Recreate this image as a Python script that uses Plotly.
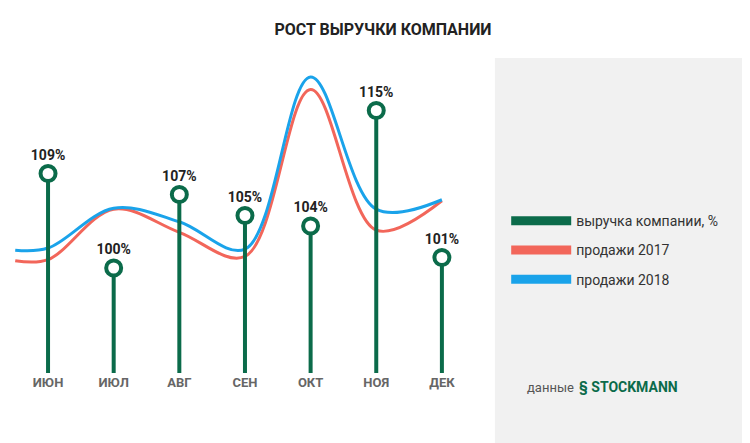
import plotly.graph_objects as go

months = ["ИЮН", "ИЮЛ", "АВГ", "СЕН", "ОКТ", "НОЯ", "ДЕК"]
revenue = [109, 100, 107, 105, 104, 115, 101]
line_x = [-0.5, 0, 1, 2, 3, 4, 5, 6]
sales_2017 = [100.7, 100.8, 105.6, 103.4, 101.1, 117.0, 103.6, 106.4]
sales_2018 = [101.7, 101.9, 105.7, 104.4, 101.8, 118.2, 105.6, 106.5]

GREEN = "#0b6b4a"
RED = "#f2665a"
BLUE = "#1aa3ea"
BASE = 90

x_idx = list(range(len(months)))
fig = go.Figure()

fig.add_trace(go.Scatter(x=line_x, y=sales_2017, mode="lines", line=dict(color=RED, width=3, shape="spline", smoothing=1.0), showlegend=False, hoverinfo="skip"))
fig.add_trace(go.Scatter(x=line_x, y=sales_2018, mode="lines", line=dict(color=BLUE, width=3, shape="spline", smoothing=1.0), showlegend=False, hoverinfo="skip"))

# stems
sx, sy = [], []
for i, v in zip(x_idx, revenue):
    sx += [i, i, None]
    sy += [BASE, v, None]
fig.add_trace(go.Scatter(x=sx, y=sy, mode="lines", line=dict(color=GREEN, width=4), showlegend=False, hoverinfo="skip"))
fig.add_trace(go.Scatter(
    x=x_idx, y=revenue, mode="markers+text",
    marker=dict(size=15, color="white", line=dict(color=GREEN, width=4)),
    text=[f"{v}%" for v in revenue], textposition="top center",
    textfont=dict(size=14, color="#222", family="Roboto", weight="bold"),
    showlegend=False))

# legend entries
for name, col in [("выручка компании, %", GREEN), ("продажи 2017", RED), ("продажи 2018", BLUE)]:
    fig.add_trace(go.Scatter(x=[None], y=[None], mode="lines", name=name, legendgroup=name,
                             line=dict(color=col, width=9)))

fig.add_shape(type="rect", xref="paper", yref="paper", x0=1.036, x1=1.6, y0=-0.232, y1=1,
              fillcolor="#f1f1f1", line_width=0, layer="below")

fig.add_annotation(xref="paper", yref="paper", x=1.1, y=-0.075, text="данные", showarrow=False,
                   xanchor="left", font=dict(size=13, color="#555"))
fig.add_annotation(xref="paper", yref="paper", x=1.21, y=-0.075, text="<b>§ STOCKMANN</b>", showarrow=False,
                   xanchor="left", font=dict(size=14, color=GREEN))

fig.update_layout(
    width=750, height=443,
    margin=dict(l=0, r=280, t=50, b=78, autoexpand=False),
    paper_bgcolor="white", plot_bgcolor="white",
    font=dict(family="Roboto"),
    title=dict(text="<b>РОСТ ВЫРУЧКИ КОМПАНИИ</b>", x=0.5, xref="container", y=0.965, xanchor="center",
               font=dict(size=16, color="#222")),
    xaxis=dict(range=[-0.61, 6.55], tickvals=x_idx, ticktext=months, showgrid=False, zeroline=False,
               showline=False, tickfont=dict(size=13, color="#666", weight="bold"), ticklen=0),
    yaxis=dict(range=[BASE, 120.0], visible=False),
    legend=dict(x=1.06, xref="paper", y=0.39, yanchor="middle", font=dict(size=14, color="#333"),
                bgcolor="rgba(0,0,0,0)", tracegroupgap=8, itemwidth=60),
)

fig.write_html("out.html")
